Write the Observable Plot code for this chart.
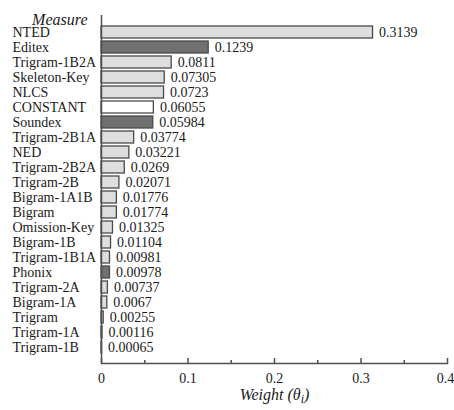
<!DOCTYPE html>
<html>
<head>
<meta charset="utf-8">
<script src="https://cdn.jsdelivr.net/npm/d3@7"></script>
<script src="https://cdn.jsdelivr.net/npm/@observablehq/plot@0.6"></script>
<style>
  body { margin: 0; background: #fff; }
  #chart svg { display: block; }
</style>
</head>
<body>
<div id="chart"></div>
<script>
const measures = ["NTED","Editex","Trigram-1B2A","Skeleton-Key","NLCS","CONSTANT","Soundex","Trigram-2B1A","NED","Trigram-2B2A","Trigram-2B","Bigram-1A1B","Bigram","Omission-Key","Bigram-1B","Trigram-1B1A","Phonix","Trigram-2A","Bigram-1A","Trigram","Trigram-1A","Trigram-1B"];
const weights = [0.3139,0.1239,0.0811,0.07305,0.0723,0.06055,0.05984,0.03774,0.03221,0.0269,0.02071,0.01776,0.01774,0.01325,0.01104,0.00981,0.00978,0.00737,0.0067,0.00255,0.00116,0.00065];
const valueLabels = ["0.3139","0.1239","0.0811","0.07305","0.0723","0.06055","0.05984","0.03774","0.03221","0.0269","0.02071","0.01776","0.01774","0.01325","0.01104","0.00981","0.00978","0.00737","0.0067","0.00255","0.00116","0.00065"];
const groups = ["light","dark","light","light","light","white","dark","light","light","light","light","light","light","light","light","light","dark","light","light","light","light","light"];
const groupNames = ["light","dark","white"];
const groupColors = ["#dedede","#707070","#ffffff"];
const majorTicks = [0,0.1,0.2,0.3,0.4];
const majorTickLabels = ["0","0.1","0.2","0.3","0.4"];
const minorTicks = [0.05,0.15,0.25,0.35];
const xTitle = "Weight (θi)";
const yTitle = "Measure";

const data = measures.map((m,i)=>({measure:m, weight:weights[i], label:valueLabels[i], group:groups[i]}));
const ticks = majorTicks.map((t,i)=>({t, label: majorTickLabels[i], last: i === majorTicks.length - 1}));

const W = 454, H = 410, mT = 15, mB = 47, mL = 101, mR = 7;
const frameH = H - mT - mB;
const axisColor = "#505050";
const textColor = "#1a1a1a";

const plot = Plot.plot({
  width: W, height: H,
  marginTop: mT, marginBottom: mB, marginLeft: mL, marginRight: mR,
  style: {fontFamily: "'Liberation Serif', 'Times New Roman', serif", fontSize: "14px", background: "#fff", color: textColor},
  x: {domain: [0, 0.4], axis: null},
  y: {domain: measures, axis: null, range: [23.5, 355], paddingInner: 0.2, paddingOuter: 0.1},
  color: {domain: groupNames, range: groupColors},
  marks: [
    Plot.barX(data, {x: "weight", y: "measure", fill: "group", stroke: "#4a4a4a", strokeWidth: 1.3}),
    Plot.text(data, {x: "weight", y: "measure", text: "label", textAnchor: "start", dx: 6, fill: textColor}),
    Plot.text(data, {y: "measure", text: "measure", frameAnchor: "left", textAnchor: "start", dx: -89, fill: textColor}),
    Plot.ruleX([0], {stroke: axisColor, strokeWidth: 1.5}),
    Plot.frame({anchor: "bottom", stroke: axisColor, strokeWidth: 1.5}),
    Plot.tickX(majorTicks, {x: d => d, insetTop: frameH - 5, stroke: axisColor, strokeWidth: 1.5}),
    Plot.tickX(minorTicks, {x: d => d, insetTop: frameH - 3, stroke: axisColor, strokeWidth: 1.5}),
    Plot.text(ticks.filter(d => !d.last), {x: "t", text: "label", frameAnchor: "bottom", dy: 19, fill: textColor}),
    Plot.text(ticks.filter(d => d.last), {x: "t", text: "label", frameAnchor: "bottom", dy: 19, dx: -2, fill: textColor}),
    Plot.text([xTitle], {x: () => 0.2, text: d => d, frameAnchor: "bottom", dy: 36, fontStyle: "italic", fontSize: 16, fill: textColor}),
    Plot.text([yTitle], {frameAnchor: "top-left", text: d => d, textAnchor: "end", dx: -14, dy: -2, fontStyle: "italic", fontSize: 16, fill: textColor})
  ]
});

// subscript the i in the axis title
d3.select(plot).selectAll("text").filter(function(){ return this.textContent === xTitle; })
  .each(function(){
    const t = d3.select(this);
    t.text("Weight (θ");
    t.append("tspan").attr("font-size", "12").attr("dy", "3").text("i");
    t.append("tspan").attr("dy", "-3").text(")");
  });

document.getElementById("chart").appendChild(plot);
</script>
</body>
</html>
